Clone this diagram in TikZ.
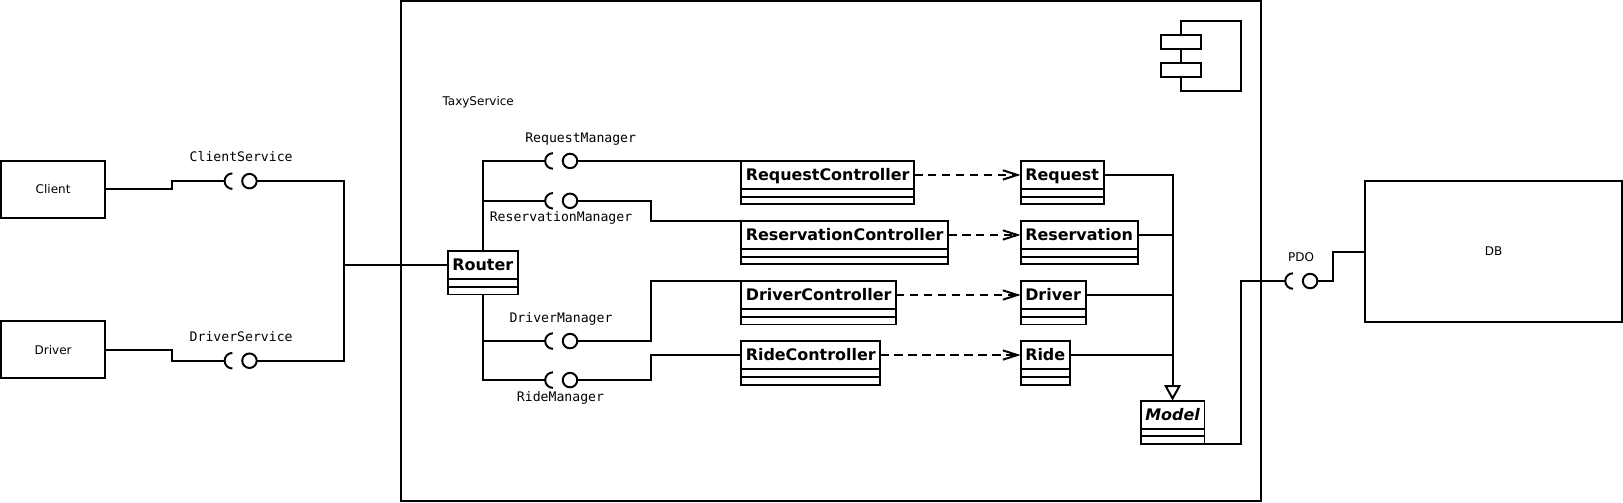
\documentclass[tikz,border=0pt]{standalone}
\usepackage{fontspec}
\setmainfont{DejaVu Sans}
\setmonofont{DejaVu Sans Mono}
\usetikzlibrary{arrows.meta,positioning,calc}

% class box: name part as a node, two empty parts drawn below it
\newcommand{\umlclass}[3]{%
	\node[classname, anchor=north west] (#1) at (#2) {#3};
	\draw[wire] (#1.south west) -- ([yshift=-15pt]#1.south west) -- ([yshift=-15pt]#1.south east) -- (#1.south east);
	\draw[wire] ([yshift=-7.5pt]#1.south west) -- ([yshift=-7.5pt]#1.south east);
	\coordinate (#1-bot) at ([yshift=-15pt]#1.south);
	\coordinate (#1-se) at ([yshift=-15pt]#1.south east);
}
% provided/required interface: ball node plus socket arc to its left
\newcommand{\socket}[2]{%
	\node[ball] (#1) at (#2) {};
	\coordinate (#1-cup) at ([xshift=-24pt]#1.center);
	\draw[wire] (#1-cup) arc[start angle=180, end angle=90, radius=7.5pt]
		(#1-cup) arc[start angle=180, end angle=270, radius=7.5pt];
}

\begin{document}
\begin{tikzpicture}[x=1pt, y=-1pt,
	wire/.style={line width=1.9pt},
	box/.style={draw, line width=1.9pt, inner sep=0pt, outer sep=0pt},
	actor/.style={box, font=\fontsize{11.6}{13}\selectfont},
	classname/.style={box, font=\fontsize{15.4}{18}\selectfont\bfseries, minimum height=27pt, inner xsep=4.5pt, text height=11pt, text depth=0pt},
	ball/.style={circle, draw, line width=1.9pt, minimum size=14pt, inner sep=0pt, outer sep=0pt},
	iface/.style={font=\fontsize{12.7}{15}\ttfamily, inner sep=0pt, text height=9.2pt, text depth=0pt},
	note/.style={font=\fontsize{11.6}{13}\selectfont, inner sep=0pt, text height=8.4pt, text depth=0pt},
	uses/.style={wire, dash pattern=on 8pt off 5.5pt, -{Straight Barb[length=14pt, width=9pt]}},
	isa/.style={wire, -{Triangle[open, length=15pt, width=16pt, fill=white]}}]
	\useasboundingbox (0,0) rectangle (1568,485);

	% TaxyService component
	\node[box, minimum width=830.5pt, minimum height=483pt, anchor=north west] (taxy) at (387.5,1) {};
	\node[note] (taxylabel) at (462,98) {TaxyService};
	\draw[wire] (1141,20) rectangle (1199,88);
	\draw[wire, fill=white] (1121.5,33.5) rectangle (1160.5,47.5);
	\draw[wire, fill=white] (1121.5,60.5) rectangle (1160.5,74.5);

	% outside parts
	\node[actor, minimum width=100.7pt, minimum height=55pt] (Client) at (51.3,182.7) {Client};
	\node[actor, minimum width=100.7pt, minimum height=55pt] (Driver) at (51.3,338) {Driver};
	\node[actor, minimum width=248pt, minimum height=136pt] (DB) at (1443,243) {DB};

	% classes
	\umlclass{Router}{432.5,242.5}{Router}
	\umlclass{ReqCtrl}{716,155.5}{RequestController}
	\umlclass{ResCtrl}{716,213.5}{ReservationController}
	\umlclass{DrvCtrl}{716,271.5}{DriverController}
	\umlclass{RideCtrl}{716,329.5}{RideController}
	\umlclass{Request}{986,155.5}{Request}
	\umlclass{Reservation}{986,213.5}{Reservation}
	\umlclass{DriverEnt}{986,271.5}{Driver}
	\umlclass{Ride}{986,329.5}{Ride}
	\umlclass{Model}{1102,387}{\itshape Model}

	% interfaces
	\socket{csvc}{241,175}
	\socket{dsvc}{241,348.5}
	\socket{reqmgr}{550.7,155.5}
	\socket{resmgr}{550.7,194}
	\socket{drvmgr}{550.7,329.5}
	\socket{ridemgr}{550.7,367.2}
	\socket{pdo}{1265.7,271.5}
	\node[iface] (csvclabel) at (233,151.4) {ClientService};
	\node[iface] (dsvclabel) at (233,325.3) {DriverService};
	\node[iface] (reqmgrlabel) at (561,132.7) {RequestManager};
	\node[iface] (resmgrlabel) at (542,209.3) {ReservationManager};
	\node[iface] (drvmgrlabel) at (542,306.6) {DriverManager};
	\node[iface] (ridemgrlabel) at (541.5,383.3) {RideManager};
	\node[note] (pdolabel) at (1257,248) {PDO};

	% bend points
	\coordinate (svcstep) at (166.5,0);
	\coordinate (hubx) at (332.7,0);
	\coordinate (hub) at (Router.west -| hubx);
	\coordinate (bend) at (628.5,0);
	\coordinate (exit) at (1199,0);
	\coordinate (dbstep) at (1288,0);

	% wiring
	\draw[wire] (Client.east) -- (Client.east -| svcstep) |- (csvc-cup);
	\draw[wire] (Driver.east) -- (Driver.east -| svcstep) |- (dsvc-cup);
	\draw[wire] (csvc.east) -| (hub);
	\draw[wire] (dsvc.east) -| (hub);
	\draw[wire] (hub) -- (Router.west);
	\draw[wire] (Router.north) |- (reqmgr-cup);
	\draw[wire] (Router.north |- resmgr-cup) -- (resmgr-cup);
	\draw[wire] (Router-bot) |- (ridemgr-cup);
	\draw[wire] (Router-bot |- drvmgr-cup) -- (drvmgr-cup);
	\draw[wire] (reqmgr.east) -- (ReqCtrl.north west);
	\draw[wire] (resmgr.east) -| (bend |- ResCtrl.north west) -- (ResCtrl.north west);
	\draw[wire] (drvmgr.east) -| (bend |- DrvCtrl.north west) -- (DrvCtrl.north west);
	\draw[wire] (ridemgr.east) -| (bend |- RideCtrl.west) -- (RideCtrl.west);
	\foreach \ctrl/\ent in {ReqCtrl/Request, ResCtrl/Reservation, DrvCtrl/DriverEnt, RideCtrl/Ride}
		\draw[uses] (\ctrl.east) -- (\ent.west);
	\foreach \ent in {Reservation, DriverEnt, Ride}
		\draw[wire] (\ent.east) -- (\ent.east -| Model.north);
	\draw[isa] (Request.east) -| (Model.north);
	\draw[wire] (Model-se) -- (Model-se -| exit) |- (pdo-cup);
	\draw[wire] (pdo.east) -- (pdo.east -| dbstep) |- (DB.west);
\end{tikzpicture}
\end{document}
